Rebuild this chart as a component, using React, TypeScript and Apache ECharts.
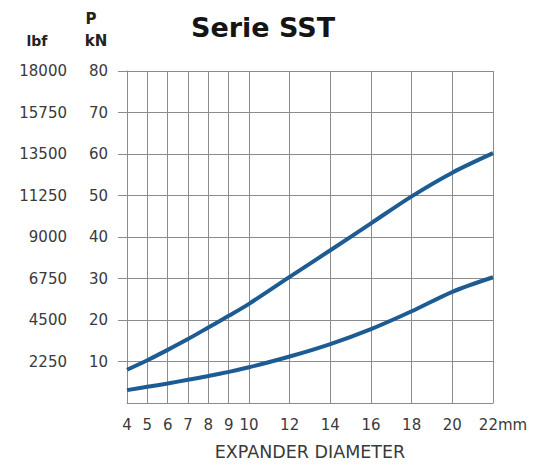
import React, { useEffect, useRef } from "react";
import * as echarts from "echarts";

// Axis ticks (mm) shown on the category axis
const xTicks = [4, 5, 6, 7, 8, 9, 10, 11, 12, 13, 14, 15, 16, 17, 18, 19, 20, 21, 22];
const shownTicks = [4, 5, 6, 7, 8, 9, 10, 12, 14, 16, 18, 20, 22];
// Data read at the grid lines
const diameters = [4, 5, 6, 7, 8, 9, 10, 12, 14, 16, 18, 20, 22];
const upperKN = [8, 10.3, 12.8, 15.4, 18.2, 21.0, 23.9, 30.4, 36.8, 43.3, 49.8, 55.5, 60.2];
const lowerKN = [3.1, 3.9, 4.7, 5.6, 6.5, 7.5, 8.6, 11.2, 14.2, 17.8, 22.1, 26.8, 30.3];

const FONT = "DejaVu Sans";
const GRID = "#8c8c8c";
const LABEL = "#3a3a3a";

export default function App() {
  const ref = useRef<HTMLDivElement>(null);
  useEffect(() => {
    document.body.style.margin = "0";
    const chart = echarts.init(ref.current!, null, { renderer: "svg" });
    const shown = (_i: number, v: string) => shownTicks.includes(Number(v));
    const last = String(xTicks[xTicks.length - 1]);
    chart.setOption({
      animation: false,
      backgroundColor: "#ffffff",
      grid: { left: 127, right: 44, top: 71, bottom: 63, containLabel: false },
      xAxis: [
        {
          type: "category",
          data: xTicks.map(String),
          boundaryGap: false,
          axisLine: { show: true, lineStyle: { color: GRID, width: 1 } },
          axisTick: { show: false },
          axisLabel: {
            interval: shown,
            margin: 14,
            color: LABEL,
            fontFamily: FONT,
            fontSize: 15,
            formatter: (v: string) => (v === last ? `{last|${v}mm}` : v),
            rich: {
              last: { color: LABEL, fontFamily: FONT, fontSize: 15, padding: [0, 0, 0, 20] },
            },
          },
          splitLine: { show: true, interval: shown, lineStyle: { color: GRID, width: 1 } },
        },
        { type: "value", min: 4, max: 22, show: false },
      ],
      yAxis: [
        {
          type: "value",
          min: 0,
          max: 80,
          interval: 10,
          position: "left",
          axisLine: { show: true, lineStyle: { color: GRID, width: 1 } },
          axisTick: { show: true, length: 9, lineStyle: { color: GRID } },
          axisLabel: {
            showMinLabel: false,
            margin: 19,
            color: LABEL,
            fontFamily: FONT,
            fontSize: 15,
            formatter: (v: number) => (v === 0 ? "" : String(v)),
          },
          splitLine: { show: true, lineStyle: { color: GRID, width: 1 } },
        },
        {
          type: "value",
          min: 0,
          max: 18000,
          interval: 2250,
          position: "left",
          offset: 41,
          axisLine: { show: false },
          axisTick: { show: false },
          splitLine: { show: false },
          axisLabel: {
            showMinLabel: false,
            margin: 19,
            color: LABEL,
            fontFamily: FONT,
            fontSize: 15,
            formatter: (v: number) => (v === 0 ? "" : String(v)),
          },
        },
      ],
      series: [
        {
          type: "line",
          xAxisIndex: 1,
          yAxisIndex: 0,
          data: diameters.map((d, i) => [d, upperKN[i]]),
          smooth: 0.3,
          showSymbol: false,
          lineStyle: { color: "#1d5c93", width: 4 },
        },
        {
          type: "line",
          xAxisIndex: 1,
          yAxisIndex: 0,
          data: diameters.map((d, i) => [d, lowerKN[i]]),
          smooth: 0.3,
          showSymbol: false,
          lineStyle: { color: "#1d5c93", width: 4 },
        },
      ],
      graphic: [
        {
          type: "text",
          x: 263,
          y: 27,
          style: {
            text: "Serie SST",
            font: `bold 27px "${FONT}"`,
            fill: "#151515",
            textAlign: "center",
            textVerticalAlign: "middle",
          },
        },
        {
          type: "text",
          x: 37,
          y: 41,
          style: { text: "lbf", font: `bold 14px "${FONT}"`, fill: "#222", textAlign: "center", textVerticalAlign: "middle" },
        },
        {
          type: "text",
          x: 91,
          y: 19,
          style: { text: "P", font: `bold 15px "${FONT}"`, fill: "#222", textAlign: "center", textVerticalAlign: "middle" },
        },
        {
          type: "text",
          x: 96,
          y: 41,
          style: { text: "kN", font: `bold 15px "${FONT}"`, fill: "#222", textAlign: "center", textVerticalAlign: "middle" },
        },
        {
          type: "text",
          x: 310,
          y: 452,
          style: { text: "EXPANDER DIAMETER", font: `17.5px "${FONT}"`, fill: LABEL, textAlign: "center", textVerticalAlign: "middle" },
        },
      ],
    });
    return () => chart.dispose();
  }, []);
  return <div ref={ref} style={{ width: 537, height: 466 }} />;
}
